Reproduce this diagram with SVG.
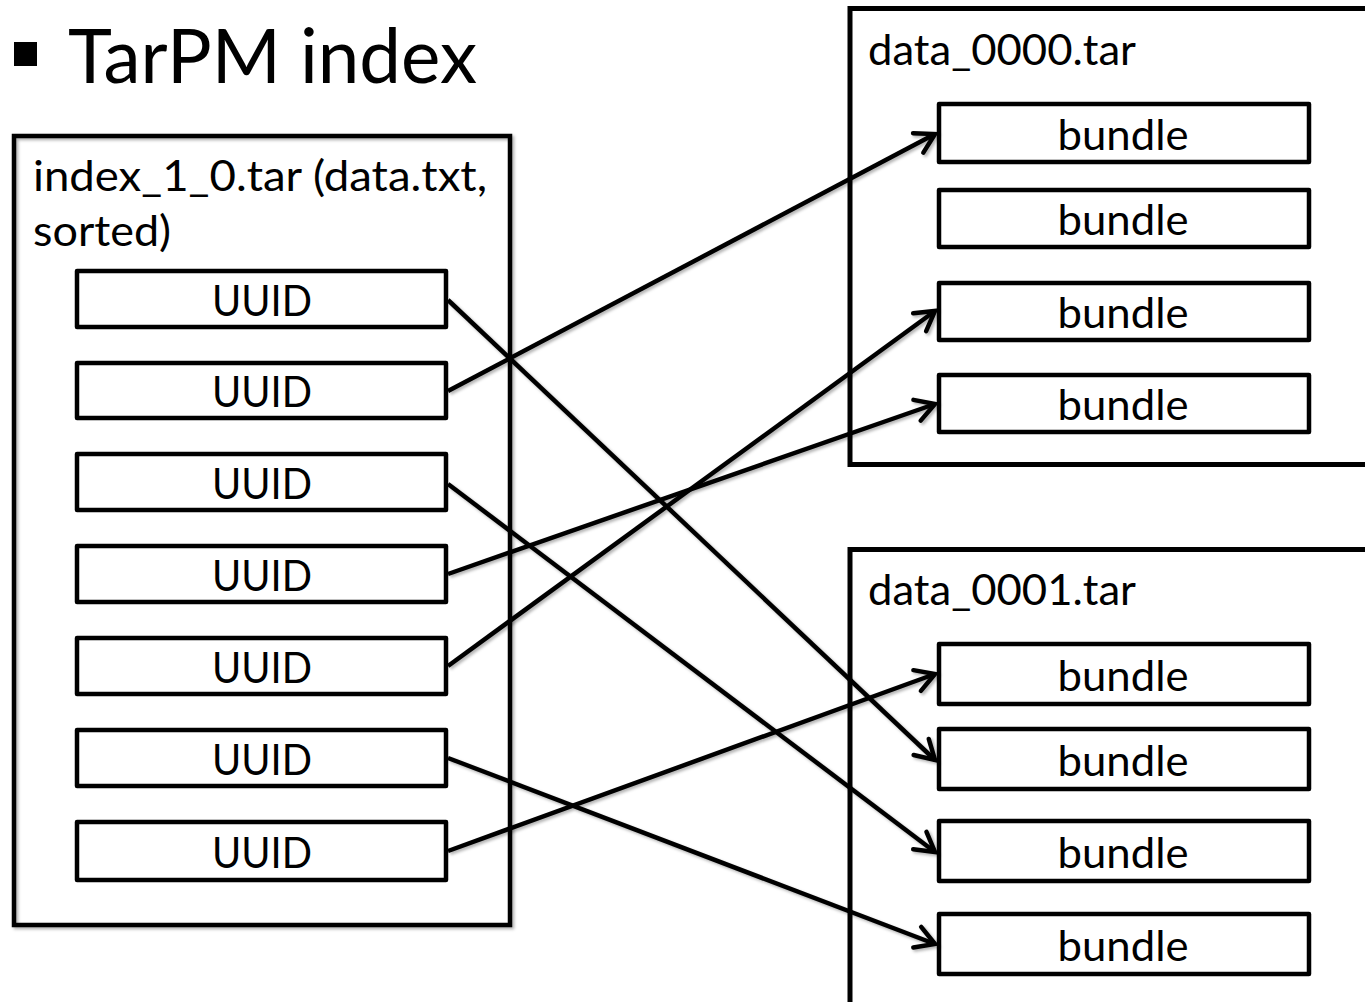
<svg xmlns="http://www.w3.org/2000/svg" width="1365" height="1002" viewBox="0 0 1365 1002">
  <style>
    .box { fill: #fff; stroke: #000; stroke-width: 4.5; stroke-linejoin: round; }
    .frame { fill: none; stroke: #000; stroke-width: 5; }
    .lbl { font-family: Lato, "Open Sans", sans-serif; font-size: 43px; fill: #000; }
    .mid { text-anchor: middle; }
    .title { font-family: Lato, "Noto Sans", sans-serif; font-size: 75px; fill: #000; }
    .conn line { stroke: #000; stroke-width: 4.5; }
  </style>
  <defs>
    <filter id="shadow" x="-5%" y="-5%" width="110%" height="110%">
      <feDropShadow dx="2" dy="2" stdDeviation="1.5" flood-color="#000" flood-opacity="0.3"/>
    </filter>
    <marker id="arrow" markerUnits="userSpaceOnUse" viewBox="-24 -14 28 28" refX="0" refY="0" markerWidth="28" markerHeight="28" orient="auto">
      <path d="M-19,-11 L0,0 L-19,11" fill="none" stroke="#000" stroke-width="4.5" stroke-linecap="round" stroke-linejoin="miter"/>
    </marker>
  </defs>

  <rect width="1365" height="1002" fill="#fff"/>

  <!-- heading -->
  <g id="title">
    <rect x="14" y="42" width="23" height="24" fill="#000"/>
    <text class="title" x="68" y="83" textLength="409" lengthAdjust="spacingAndGlyphs">TarPM index</text>
  </g>

  <!-- index archive with its sorted UUID entries -->
  <g id="index">
    <rect class="frame" x="14" y="136" width="496" height="789" style="stroke-width:4.5" filter="url(#shadow)"/>
    <text class="lbl" x="33" y="191" textLength="454" lengthAdjust="spacingAndGlyphs">index_1_0.tar (data.txt,</text>
    <text class="lbl" x="33" y="246" textLength="138" lengthAdjust="spacingAndGlyphs">sorted)</text>
  </g>
  <g id="uuid1"><rect class="box" x="77" y="271" width="369" height="56"/><text class="lbl mid" x="262" y="316" textLength="100" lengthAdjust="spacingAndGlyphs">UUID</text></g>
  <g id="uuid2"><rect class="box" x="77" y="363" width="369" height="55"/><text class="lbl mid" x="262" y="407" textLength="100" lengthAdjust="spacingAndGlyphs">UUID</text></g>
  <g id="uuid3"><rect class="box" x="77" y="454" width="369" height="56"/><text class="lbl mid" x="262" y="499" textLength="100" lengthAdjust="spacingAndGlyphs">UUID</text></g>
  <g id="uuid4"><rect class="box" x="77" y="546" width="369" height="56"/><text class="lbl mid" x="262" y="591" textLength="100" lengthAdjust="spacingAndGlyphs">UUID</text></g>
  <g id="uuid5"><rect class="box" x="77" y="638" width="369" height="56"/><text class="lbl mid" x="262" y="683" textLength="100" lengthAdjust="spacingAndGlyphs">UUID</text></g>
  <g id="uuid6"><rect class="box" x="77" y="730" width="369" height="56"/><text class="lbl mid" x="262" y="775" textLength="100" lengthAdjust="spacingAndGlyphs">UUID</text></g>
  <g id="uuid7"><rect class="box" x="77" y="822" width="369" height="58"/><text class="lbl mid" x="262" y="868" textLength="100" lengthAdjust="spacingAndGlyphs">UUID</text></g>

  <!-- first data archive -->
  <g id="data0000">
    <rect class="frame" x="850" y="8.5" width="540" height="456"/>
    <text class="lbl" x="868" y="65" textLength="268" lengthAdjust="spacingAndGlyphs">data_0000.tar</text>
  </g>
  <g id="bundle1"><rect class="box" x="939" y="104" width="370" height="58"/><text class="lbl mid" x="1123" y="150" textLength="131" lengthAdjust="spacingAndGlyphs">bundle</text></g>
  <g id="bundle2"><rect class="box" x="939" y="190" width="370" height="57"/><text class="lbl mid" x="1123" y="235" textLength="131" lengthAdjust="spacingAndGlyphs">bundle</text></g>
  <g id="bundle3"><rect class="box" x="939" y="283" width="370" height="57"/><text class="lbl mid" x="1123" y="328" textLength="131" lengthAdjust="spacingAndGlyphs">bundle</text></g>
  <g id="bundle4"><rect class="box" x="939" y="375" width="370" height="57"/><text class="lbl mid" x="1123" y="420" textLength="131" lengthAdjust="spacingAndGlyphs">bundle</text></g>

  <!-- second data archive -->
  <g id="data0001">
    <rect class="frame" x="850" y="549.5" width="540" height="500"/>
    <text class="lbl" x="868" y="605" textLength="268" lengthAdjust="spacingAndGlyphs">data_0001.tar</text>
  </g>
  <g id="bundle5"><rect class="box" x="939" y="644" width="370" height="60"/><text class="lbl mid" x="1123" y="691" textLength="131" lengthAdjust="spacingAndGlyphs">bundle</text></g>
  <g id="bundle6"><rect class="box" x="939" y="729" width="370" height="60"/><text class="lbl mid" x="1123" y="776" textLength="131" lengthAdjust="spacingAndGlyphs">bundle</text></g>
  <g id="bundle7"><rect class="box" x="939" y="821" width="370" height="60"/><text class="lbl mid" x="1123" y="868" textLength="131" lengthAdjust="spacingAndGlyphs">bundle</text></g>
  <g id="bundle8"><rect class="box" x="939" y="914" width="370" height="60"/><text class="lbl mid" x="1123" y="961" textLength="131" lengthAdjust="spacingAndGlyphs">bundle</text></g>

  <!-- index entry -> bundle pointers -->
  <g id="connectors" class="conn" filter="url(#shadow)">
    <line x1="448" y1="300" x2="935" y2="760" marker-end="url(#arrow)"/>
    <line x1="448" y1="391" x2="935" y2="134" marker-end="url(#arrow)"/>
    <line x1="448" y1="484" x2="935" y2="852" marker-end="url(#arrow)"/>
    <line x1="448" y1="574" x2="935" y2="404" marker-end="url(#arrow)"/>
    <line x1="448" y1="666" x2="935" y2="311" marker-end="url(#arrow)"/>
    <line x1="448" y1="758" x2="935" y2="944" marker-end="url(#arrow)"/>
    <line x1="448" y1="851" x2="935" y2="674" marker-end="url(#arrow)"/>
  </g>
</svg>
